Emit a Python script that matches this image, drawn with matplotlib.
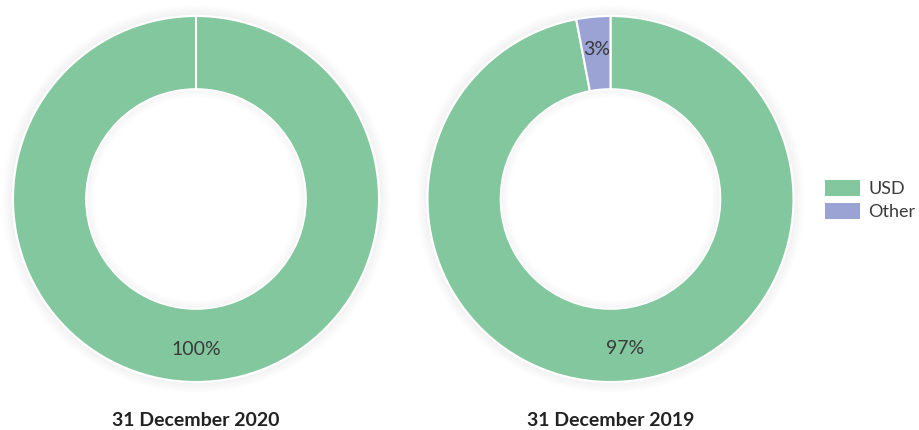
import matplotlib
matplotlib.use("Agg")
import matplotlib.pyplot as plt
from matplotlib.patches import Patch, Circle
import numpy as np

titles = ["31 December 2020", "31 December 2019"]
categories = ["USD", "Other"]
shares_2020 = [100, 0]
shares_2019 = [97, 3]
colors = ["#82c79e", "#9aa3d4"]

W, H = 919, 430
fig = plt.figure(figsize=(W / 100, H / 100), dpi=100)
plt.rcParams["font.family"] = ["Lato", "DejaVu Sans"]

def donut(cx, cy, r, values, title):
    ax = fig.add_axes([(cx - r) / W, (H - cy - r) / H, 2 * r / W, 2 * r / H])
    ax.set_xlim(-1, 1); ax.set_ylim(-1, 1)
    ax.set_aspect("equal"); ax.axis("off")
    # soft shadow
    for i in range(8):
        ax.add_patch(Circle((0, 0), 1.0 + 0.007 * (i + 1), fc="none", clip_on=False,
                            ec="#000000", lw=1.5, alpha=0.03 - 0.0035 * i))
    vals = [v for v in values if v > 0]
    cols = [c for v, c in zip(values, colors) if v > 0]
    ax.pie(vals, colors=cols, startangle=90, counterclock=False, radius=1.0,
           wedgeprops=dict(width=0.40, edgecolor="white", lw=1.5))
    ax.set_xlim(-1, 1); ax.set_ylim(-1, 1)
    if len(vals) == 1:
        ax.plot([0, 0], [0.6, 1.0], color="white", lw=1.5)
    # inner shadow on the hole
    for i in range(6):
        ax.add_patch(Circle((0, 0), 0.6 - 0.007 * (i + 1), fc="none",
                            ec="#000000", lw=1.5, alpha=0.025 - 0.004 * i))
    total = sum(vals)
    start = 90
    for v in vals:
        ang = np.deg2rad(start - 360 * v / total / 2)
        ax.text(0.82 * np.cos(ang), 0.82 * np.sin(ang), f"{v}%", ha="center",
                va="center", fontsize=14, color="#3a3a3a")
        start -= 360 * v / total
    fig.text(cx / W, 1 - 420 / H, title, ha="center", va="center",
             fontsize=14, fontweight="bold", color="#222222")

donut(196, 199, 183, shares_2020, titles[0])
donut(610.5, 199, 183, shares_2019, titles[1])

handles = [Patch(fc=c, ec="none") for c in colors]
fig.legend(handles, categories, loc="center left", bbox_to_anchor=(818 / W, 1 - 200 / H),
           frameon=False, handlelength=1.9, handleheight=1.0, borderaxespad=0,
           handletextpad=0.5, labelspacing=0.35, labelcolor="#3a3a3a",
           prop={"family": ["Lato", "DejaVu Sans"], "size": 13})

fig.savefig("out.png", dpi=100)
